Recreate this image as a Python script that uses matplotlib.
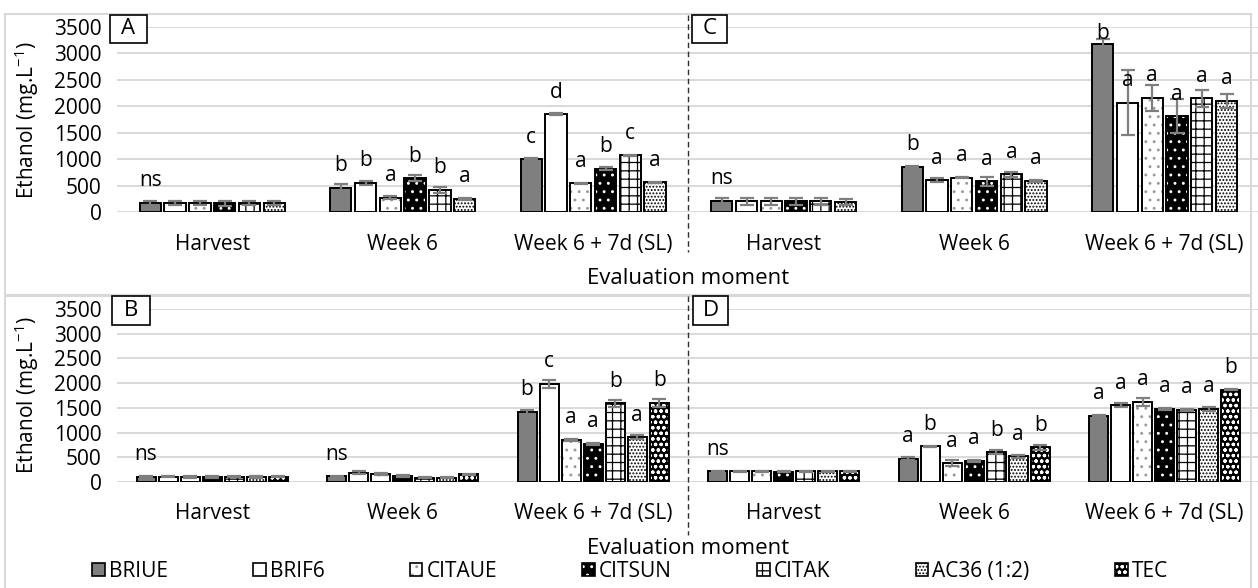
# ethanol bars, 4 panels (A/C top, B/D bottom), excel-like look

import matplotlib
matplotlib.use('Agg')
import matplotlib.pyplot as plt
import matplotlib.transforms as mtransforms
from matplotlib.patches import Patch, Rectangle
from matplotlib.lines import Line2D
import numpy as np

plt.rcParams['font.family'] = ['Open Sans', 'DejaVu Sans']
plt.rcParams['mathtext.default'] = 'regular'
plt.rcParams['hatch.linewidth'] = 0.9

# data
moments = ['Harvest', 'Week 6', 'Week 6 + 7d (SL)']
series = ['BRIUE', 'BRIF6', 'CITAUE', 'CITSUN', 'CITAK', 'AC36 (1:2)', 'TEC']

# panel A (per series: harvest, week 6, week 6 + 7d)
A_means = [[175, 460, 1000],
           [170, 550, 1850],
           [170, 270, 540],
           [165, 640, 820],
           [170, 420, 1070],
           [165, 250, 560]]
A_err = [[40, 70, 25],
         [40, 30, 15],
         [40, 30, 15],
         [45, 60, 25],
         [40, 60, 10],
         [35, 20, 15]]
A_letters = [['ns', '', '', '', '', ''],
             ['b', 'b', 'a', 'b', 'b', 'a'],
             ['c', 'd', 'a', 'b', 'c', 'a']]

# panel C
C_means = [[210, 860, 3180],
           [200, 600, 2070],
           [200, 650, 2160],
           [200, 580, 1810],
           [200, 710, 2150],
           [195, 590, 2100]]
C_err = [[60, 10, 100],
         [60, 40, 620],
         [60, 15, 240],
         [60, 80, 320],
         [60, 40, 160],
         [60, 15, 130]]
C_letters = [['ns', '', '', '', '', ''],
             ['b', 'a', 'a', 'a', 'a', 'a'],
             ['b', 'a', 'a', 'a', 'a', 'a']]

# panel B
B_means = [[110, 120, 1420],
           [110, 190, 1990],
           [100, 160, 850],
           [105, 130, 770],
           [110, 90, 1590],
           [105, 90, 910],
           [110, 160, 1600]]
B_err = [[15, 10, 40],
         [15, 30, 80],
         [15, 20, 15],
         [15, 20, 15],
         [15, 10, 70],
         [15, 10, 50],
         [15, 10, 80]]
B_letters = [['ns', '', '', '', '', '', ''],
             ['ns', '', '', '', '', '', ''],
             ['b', 'c', 'a', 'a', 'b', 'a', 'b']]

# panel D
D_means = [[220, 470, 1340],
           [215, 720, 1550],
           [215, 380, 1620],
           [210, 430, 1480],
           [215, 600, 1460],
           [215, 520, 1480],
           [215, 700, 1870]]
D_err = [[10, 30, 15],
         [10, 10, 40],
         [10, 60, 80],
         [10, 20, 15],
         [10, 40, 15],
         [10, 30, 40],
         [10, 50, 10]]
D_letters = [['ns', '', '', '', '', '', ''],
             ['a', 'b', 'a', 'a', 'b', 'a', 'b'],
             ['a', 'a', 'a', 'a', 'a', 'a', 'b']]

# fill colour, hatch, hatch colour for each series
styles = [('#7f7f7f', None, '#7f7f7f'),
          ('white', None, 'white'),
          ('white', '..', '#9a9a9a'),
          ('black', '..', 'white'),
          ('white', '++', 'black'),
          ('white', '.....', 'black'),
          ('black', 'ooo', 'white')]

W, H = 1258, 588
def fx(px): return px / W
def fy(py): return 1 - py / H

FS = 15

fig = plt.figure(figsize=(W / 100, H / 100), dpi=100)

# chart frames
for y0, y1 in [(14, 295), (296, 600)]:
    fig.add_artist(Rectangle((fx(5), fy(y1)), fx(1251) - fx(5), (y1 - y0) / H,
                             transform=fig.transFigure, fill=False,
                             ec='#d9d9d9', lw=1.5))


def draw(ax, means, errs, letters, group, pad, height_px):
    means = np.array(means)
    errs = np.array(errs)
    n = means.shape[0]
    x = np.arange(means.shape[1])
    slot = group / n
    w = slot * 0.86
    off = 22 * 3500 / height_px  # ~22 px above the bar top
    for i in range(n):
        fc, hatch, hc = styles[i]
        xs = x - group / 2 + slot * (i + 0.5)
        ax.bar(xs, means[i], w, color=fc, edgecolor=hc, hatch=hatch, lw=0, zorder=2)
        ax.bar(xs, means[i], w, fill=False, edgecolor='black', lw=1.4, zorder=3)
        ax.errorbar(xs, means[i], yerr=errs[i], fmt='none', ecolor='#7f7f7f',
                    elinewidth=1.6, capsize=5, capthick=1.6, zorder=4)
        for j in range(len(x)):
            lab = letters[j][i]
            if lab:
                ax.text(xs[j], min(means[i][j] + off, 3380), lab, ha='center',
                        va='center', fontsize=FS, zorder=5)
    ax.set_xlim(-0.5, 5.49)
    ax.set_ylim(0, 3500)
    ax.set_yticks(range(0, 3501, 500))
    ax.set_xticks(x)
    ax.set_xticklabels(moments * 2)
    ax.grid(axis='y', color='#d9d9d9', lw=1.4)
    ax.set_axisbelow(True)
    for s in ax.spines.values():
        s.set_visible(False)
    ax.tick_params(axis='y', length=0, labelsize=FS, pad=11)
    ax.tick_params(axis='x', length=0, labelsize=FS, pad=pad)


# top chart: A | C
ax1 = fig.add_axes([fx(117), fy(212), 1 - fx(117), (212 - 27) / H])
draw(ax1, np.hstack([A_means, C_means]), np.hstack([A_err, C_err]),
     A_letters + C_letters, 0.78, 16, 212 - 27)

# bottom chart: B | D
ax2 = fig.add_axes([fx(117), fy(482), 1 - fx(117), (482 - 309) / H])
draw(ax2, np.hstack([B_means, D_means]), np.hstack([B_err, D_err]),
     B_letters + D_letters, 0.81, 15, 482 - 309)

# dashed separators between panels
for ax, y0, y1 in [(ax1, 15, 252), (ax2, 296, 535)]:
    tr = mtransforms.blended_transform_factory(ax.transData, fig.transFigure)
    fig.add_artist(Line2D([2.5, 2.5], [fy(y0), fy(y1)], transform=tr,
                          color='#303030', lw=1, ls=(0, (4, 2.5))))

# panel letters in boxes
for lab, x0, x1, y0, y1 in [('A', 110, 147, 15, 43), ('C', 692, 727, 15, 43),
                            ('B', 112, 150, 296, 325), ('D', 693, 728, 296, 325)]:
    fig.add_artist(Rectangle((fx(x0), fy(y1)), fx(x1) - fx(x0), (y1 - y0) / H,
                             transform=fig.transFigure, fc='white', ec='black',
                             lw=1.2, zorder=6))
    fig.text(fx((x0 + x1) / 2), fy((y0 + y1) / 2), lab, ha='center', va='center',
             fontsize=16, zorder=7)

# axis titles
ylab = 'Ethanol (mg.L$^{-1}$)'
fig.text(fx(27), fy(120), ylab, rotation=90, ha='center', va='center', fontsize=FS)
fig.text(fx(27), fy(395), ylab, rotation=90, ha='center', va='center', fontsize=FS)
fig.text(fx(688), fy(278), 'Evaluation moment', ha='center', va='center', fontsize=16)
fig.text(fx(688), fy(548), 'Evaluation moment', ha='center', va='center', fontsize=16)

# legend
handles = []
for fc, hatch, hc in styles:
    handles.append((Patch(facecolor=fc, edgecolor=hc, hatch=hatch, lw=0),
                    Patch(fill=False, edgecolor='black', lw=1.2)))
fig.legend(handles, series, ncol=7, loc='center', mode='expand',
           bbox_to_anchor=(fx(92), fy(572), fx(1168) - fx(92), 0.001),
           frameon=False, fontsize=FS, handlelength=0.6, handleheight=0.6,
           handletextpad=0.2, borderaxespad=0, borderpad=0)

fig.savefig('out.png', dpi=100)
